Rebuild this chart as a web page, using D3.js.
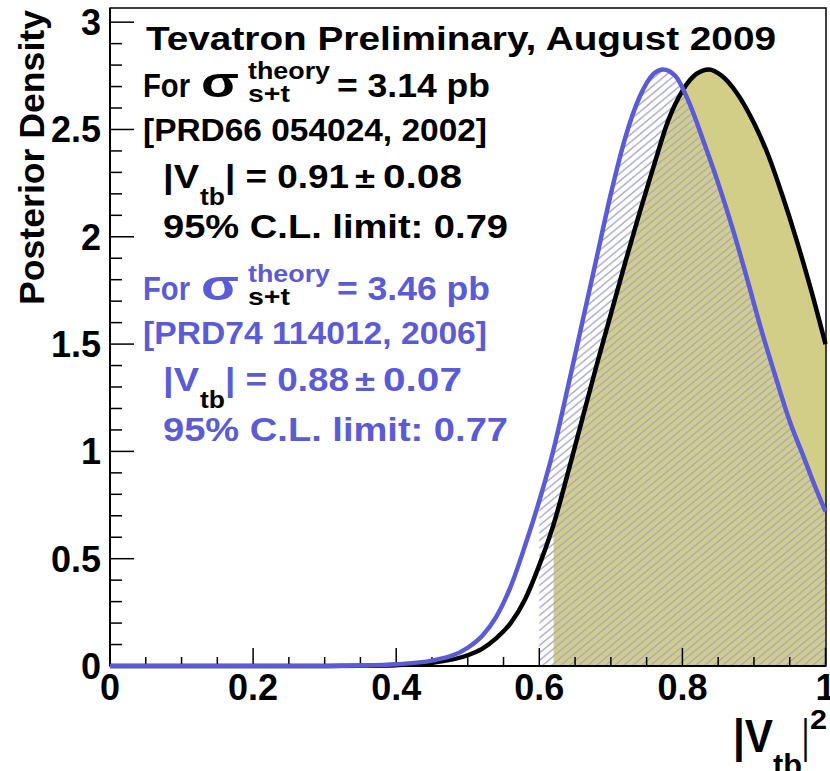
<!DOCTYPE html>
<html>
<head>
<meta charset="utf-8">
<script src="https://cdn.jsdelivr.net/npm/d3@7"></script>
<style>
  body { margin: 0; background: #fff; }
  svg { display: block; }
  text { font-family: "Liberation Sans", Arial, Helvetica, sans-serif; font-weight: bold; }
</style>
</head>
<body>
<svg id="chart" width="830" height="771"></svg>
<script>
// Posterior density of |Vtb|^2 for two single-top theory cross sections
const vtb2Black = [0, 0.30, 0.35, 0.40, 0.45, 0.50, 0.52, 0.54, 0.56, 0.58, 0.60, 0.62, 0.64, 0.66, 0.68, 0.70, 0.72, 0.74, 0.76, 0.78, 0.80, 0.82, 0.837, 0.855, 0.876, 0.90, 0.92, 0.94, 0.96, 0.98, 1.0];
const densBlack = [0, 0, 0.001, 0.004, 0.015, 0.05, 0.08, 0.13, 0.20, 0.31, 0.47, 0.66, 0.90, 1.15, 1.40, 1.64, 1.88, 2.11, 2.33, 2.54, 2.68, 2.76, 2.78, 2.75, 2.67, 2.53, 2.38, 2.19, 1.98, 1.75, 1.50];

const vtb2Blue = [0, 0.30, 0.35, 0.40, 0.45, 0.50, 0.52, 0.54, 0.56, 0.58, 0.60, 0.62, 0.64, 0.66, 0.68, 0.70, 0.72, 0.74, 0.76, 0.773, 0.79, 0.81, 0.83, 0.85, 0.87, 0.89, 0.91, 0.93, 0.95, 0.97, 0.985, 1.0];
const densBlue = [0, 0, 0.002, 0.008, 0.025, 0.085, 0.14, 0.23, 0.37, 0.56, 0.77, 1.01, 1.30, 1.60, 1.90, 2.20, 2.46, 2.65, 2.76, 2.78, 2.75, 2.62, 2.44, 2.25, 2.04, 1.81, 1.57, 1.35, 1.14, 0.97, 0.84, 0.72];

// start of the shaded regions above the 95% C.L. limits (histogram bin edges)
const limitBlack = 0.62;
const limitBlue = 0.60;

const xMajor = [0, 0.2, 0.4, 0.6, 0.8, 1];
const xMajorLabels = ["0", "0.2", "0.4", "0.6", "0.8", "1"];
const yMajor = [0, 0.5, 1, 1.5, 2, 2.5, 3];
const yMajorLabels = ["0", "0.5", "1", "1.5", "2", "2.5", "3"];

const BLUE = "#5b5bd6";
const OLIVE = "#d2ce88";
const HATCH = "#a6a6c8";

const svg = d3.select("#chart");
const padL = 110, padR = 826, padT = 8, padB = 666;

const x = d3.scaleLinear().domain([0, 1]).range([padL, padR - 0.5]);
const y = d3.scaleLinear().domain([0, 3.066]).range([padB, padT]);

const defs = svg.append("defs");
const pat = defs.append("pattern")
  .attr("id", "hatch").attr("patternUnits", "userSpaceOnUse")
  .attr("width", 9).attr("height", 7.5);
pat.append("path")
  .attr("d", "M-1,8.33 L10,-0.83 M-10,8.33 L1,-0.83 M8,8.33 L19,-0.83")
  .attr("stroke", HATCH).attr("stroke-width", 1.3).attr("fill", "none");

defs.append("clipPath").attr("id", "clipBlack").append("rect")
  .attr("x", x(limitBlack)).attr("y", padT).attr("width", x(1) - x(limitBlack)).attr("height", padB - padT);
defs.append("clipPath").attr("id", "clipBlue").append("rect")
  .attr("x", x(limitBlue)).attr("y", padT).attr("width", x(1) - x(limitBlue)).attr("height", padB - padT);

const black = vtb2Black.map((v, i) => [v, densBlack[i]]);
const blue = vtb2Blue.map((v, i) => [v, densBlue[i]]);

const area = d3.area().x(d => x(d[0])).y0(y(0)).y1(d => y(d[1])).curve(d3.curveMonotoneX);
const line = d3.line().x(d => x(d[0])).y(d => y(d[1])).curve(d3.curveMonotoneX);

// filled region under the 3.14 pb posterior
svg.append("path").datum(black).attr("d", area).attr("fill", OLIVE).attr("clip-path", "url(#clipBlack)");
// hatched region under the 3.46 pb posterior
svg.append("path").datum(blue).attr("d", area).attr("fill", "url(#hatch)").attr("clip-path", "url(#clipBlue)");

// frame
svg.append("rect").attr("x", padL).attr("y", padT).attr("width", padR - padL).attr("height", padB - padT)
  .attr("fill", "none").attr("stroke", "#000").attr("stroke-width", 1.5);

// axes
const xAxis = svg.append("g");
xAxis.append("line").attr("x1", padL).attr("x2", padR).attr("y1", padB).attr("y2", padB).attr("stroke", "#000").attr("stroke-width", 2);
const xMinor = d3.range(0, 21).map(i => i * 0.05);
xAxis.selectAll(".xt").data(xMinor).join("line")
  .attr("x1", d => x(d)).attr("x2", d => x(d))
  .attr("y1", padB).attr("y2", (d, i) => padB - (i % 4 === 0 ? 18 : 9))
  .attr("stroke", "#000").attr("stroke-width", 1.5);
xAxis.selectAll(".xl").data(xMajor).join("text")
  .attr("x", d => x(d)).attr("y", 700).attr("text-anchor", "middle")
  .attr("font-size", 36).text((d, i) => xMajorLabels[i]);

const yAxis = svg.append("g");
yAxis.append("line").attr("x1", padL).attr("x2", padL).attr("y1", padT).attr("y2", padB).attr("stroke", "#000").attr("stroke-width", 2);
const yMinor = d3.range(0, 31).map(i => i * 0.1);
yAxis.selectAll(".yt").data(yMinor).join("line")
  .attr("x1", padL).attr("x2", (d, i) => padL + (i % 5 === 0 ? 24 : 12))
  .attr("y1", d => y(d)).attr("y2", d => y(d))
  .attr("stroke", "#000").attr("stroke-width", 1.5);
yAxis.selectAll(".yl").data(yMajor).join("text")
  .attr("x", 101).attr("y", d => y(d) + 13).attr("text-anchor", "end")
  .attr("font-size", 36).text((d, i) => yMajorLabels[i]);

// curves
svg.append("path").datum(black).attr("d", line).attr("fill", "none").attr("stroke", "#000").attr("stroke-width", 4.5);
svg.append("path").datum(blue).attr("d", line).attr("fill", "none").attr("stroke", BLUE).attr("stroke-width", 4.5);

// one run of text stretched to a given width
function run(txt, px, py, size, w, fill, weight) {
  const t = svg.append("text").attr("x", px).attr("y", py).attr("font-size", size)
    .attr("fill", fill || "#000").text(txt);
  if (weight) t.attr("font-weight", weight);
  if (w) t.attr("textLength", w).attr("lengthAdjust", "spacingAndGlyphs");
  return t;
}

// axis titles
svg.append("text").attr("transform", "translate(44,10) rotate(-90)")
  .attr("text-anchor", "end").attr("font-size", 35)
  .attr("textLength", 295).attr("lengthAdjust", "spacingAndGlyphs")
  .text("Posterior Density");
run("|V", 733, 752, 46, 40);
run("tb", 773, 776, 32, 29);
run("|", 803, 752, 46, 5);
run("2", 810, 729, 28, 17);

// annotation block
run("Tevatron Preliminary, August 2009", 146, 50, 34, 630);

function block(yb, col, xsec, ref, vtb, err, lim) {
  run("For", 143, yb, 34, 47, col);
  run("σ", 201, yb, 42, 38, col, "normal");
  run("theory", 248, yb - 18, 24, 82, col);
  run("s+t", 248, yb + 5, 24, 42, "#000");
  run("= " + xsec + " pb", 337, yb, 34, 153, col);
  run(ref, 143, yb + 44, 31, 344, col);
  run("|V", 163, yb + 91, 34, 36, col);
  run("tb", 200, yb + 108, 24, 25, "#000");
  run("| = " + vtb, 225, yb + 91, 34, 124, col);
  run("±", 355, yb + 91, 30, 20, col, "normal");
  run(err, 383, yb + 91, 34, 79, col);
  run("95% C.L. limit: " + lim, 163, yb + 141, 34, 345, col);
}
block(97, "#000", "3.14", "[PRD66 054024, 2002]", "0.91", "0.08", "0.79");
block(300, BLUE, "3.46", "[PRD74 114012, 2006]", "0.88", "0.07", "0.77");
</script>
</body>
</html>
